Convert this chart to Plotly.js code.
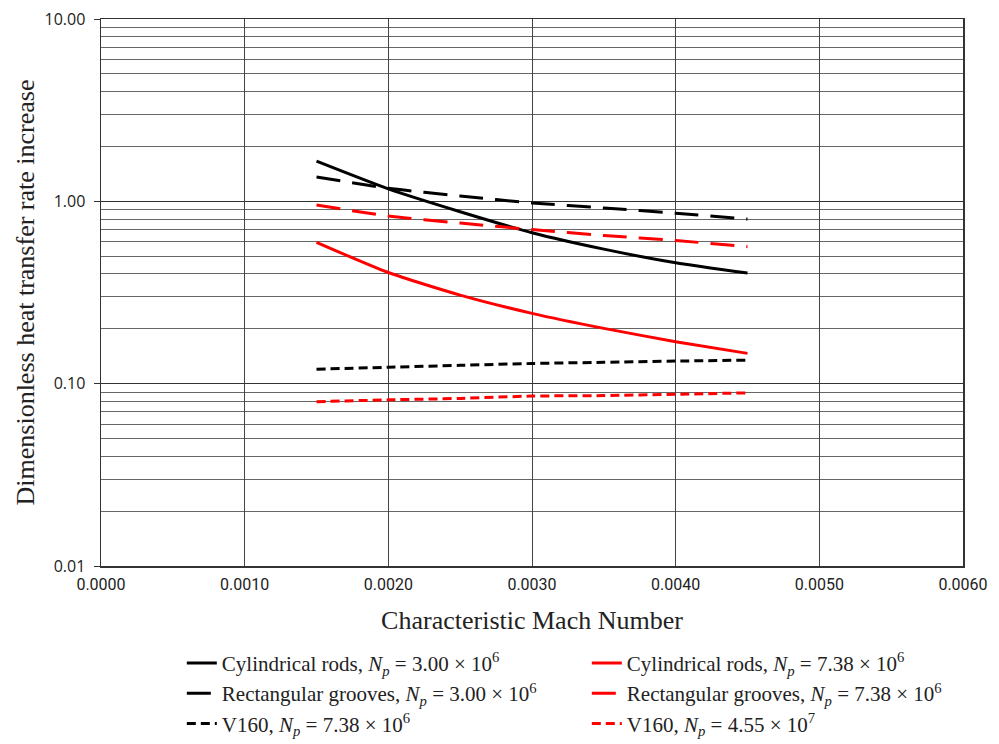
<!DOCTYPE html>
<html>
<head>
<meta charset="utf-8">
<script src="https://cdn.plot.ly/plotly-3.0.1.min.js"></script>
<style>
  html, body { margin: 0; padding: 0; background: #fff; }
  #chart { width: 999px; height: 744px; }
</style>
</head>
<body>
<div id="chart"></div>
<script>
// Characteristic Mach number samples
const mach = [0.0015, 0.0020, 0.0025, 0.0030, 0.0035, 0.0040, 0.0045];

// Dimensionless heat transfer rate increase per configuration
const cylRodsLow   = [1.66, 1.17, 0.877, 0.673, 0.547, 0.460, 0.404];
const cylRodsHigh  = [0.596, 0.407, 0.306, 0.243, 0.201, 0.170, 0.1466];
const rectLow      = [1.36, 1.18, 1.07, 0.98, 0.92, 0.86, 0.80];
const rectHigh     = [0.955, 0.83, 0.76, 0.70, 0.65, 0.61, 0.564];
const v160Low      = [0.120, 0.123, 0.126, 0.129, 0.131, 0.133, 0.1346];
const v160High     = [0.0796, 0.0815, 0.083, 0.0855, 0.086, 0.0875, 0.089];

// Legend labels
const labels = [
  'Cylindrical rods, <i>N<sub>p</sub></i> = 3.00 × 10<sup>6</sup>',
  'Cylindrical rods, <i>N<sub>p</sub></i> = 7.38 × 10<sup>6</sup>',
  'Rectangular grooves, <i>N<sub>p</sub></i> = 3.00 × 10<sup>6</sup>',
  'Rectangular grooves, <i>N<sub>p</sub></i> = 7.38 × 10<sup>6</sup>',
  'V160, <i>N<sub>p</sub></i> = 7.38 × 10<sup>6</sup>',
  'V160, <i>N<sub>p</sub></i> = 4.55 × 10<sup>7</sup>'
];

// Axis tick labels
const yTickVals = [0.01, 0.1, 1, 10];
const yTickText = ['0.01', '0.10', '1.00', '10.00'];

// Minor gridlines at 2..9 within each decade
const yMinor = [];
for (let e = -2; e < 1; e++) {
  for (let m = 2; m <= 9; m++) yMinor.push(m * Math.pow(10, e));
}

const longDash = '24px,12px';
const shortDash = '9px,5px';

function series(y, name, color, dash) {
  return {
    x: mach, y: y, name: name, type: 'scatter', mode: 'lines',
    line: { color: color, width: 3, dash: dash, shape: 'spline', smoothing: 0.6 }
  };
}

const traces = [
  series(cylRodsLow,  labels[0], '#000000', 'solid'),
  series(cylRodsHigh, labels[1], '#ff0000', 'solid'),
  series(rectLow,     labels[2], '#000000', longDash),
  series(rectHigh,    labels[3], '#ff0000', longDash),
  series(v160Low,     labels[4], '#000000', shortDash),
  series(v160High,    labels[5], '#ff0000', shortDash)
];

const serif = 'Liberation Serif, Times New Roman, serif';
const sans = 'Open Sans, Liberation Sans, sans-serif';

const layout = {
  width: 999, height: 744,
  margin: { l: 101, r: 36, t: 19, b: 178, autoexpand: false },
  paper_bgcolor: '#ffffff', plot_bgcolor: '#ffffff',
  showlegend: true,
  xaxis: {
    range: [0, 0.006], dtick: 0.001, tick0: 0, tickformat: '.4f',
    showgrid: true, gridcolor: '#444444', gridwidth: 1,
    zeroline: false, showline: true, linecolor: '#333333', linewidth: 1.5, mirror: true,
    ticks: '', ticklabelstandoff: 3,
    tickfont: { family: 'Liberation Sans Narrow, Roboto, sans-serif', size: 16, color: '#222' },
    title: { text: 'Characteristic Mach Number', font: { family: serif, size: 26, color: '#222' }, standoff: 18 }
  },
  yaxis: {
    type: 'log', range: [-2, 1],
    tickmode: 'array', tickvals: yTickVals, ticktext: yTickText,
    showgrid: true, gridcolor: '#333333', gridwidth: 1,
    minor: { tickmode: 'array', tickvals: yMinor, showgrid: true, gridcolor: '#666666', gridwidth: 1, ticks: '' },
    zeroline: false, showline: true, linecolor: '#333333', linewidth: 1.5, mirror: true,
    ticks: 'outside', ticklen: 6, tickcolor: '#333333', ticklabelstandoff: 5,
    tickfont: { family: sans, size: 16, color: '#222' },
    title: { text: 'Dimensionless heat transfer rate increase', font: { family: serif, size: 26, color: '#222' }, standoff: 2 }
  },
  legend: {
    orientation: 'h', x: 0.182, xref: 'container', xanchor: 'left',
    y: 0.136, yref: 'container', yanchor: 'top',
    entrywidth: 360, entrywidthmode: 'pixels',
    font: { family: serif, size: 21, color: '#222' },
    bgcolor: 'rgba(0,0,0,0)', traceorder: 'normal'
  }
};

Plotly.newPlot('chart', traces, layout, { staticPlot: true, displayModeBar: false });
</script>
</body>
</html>
